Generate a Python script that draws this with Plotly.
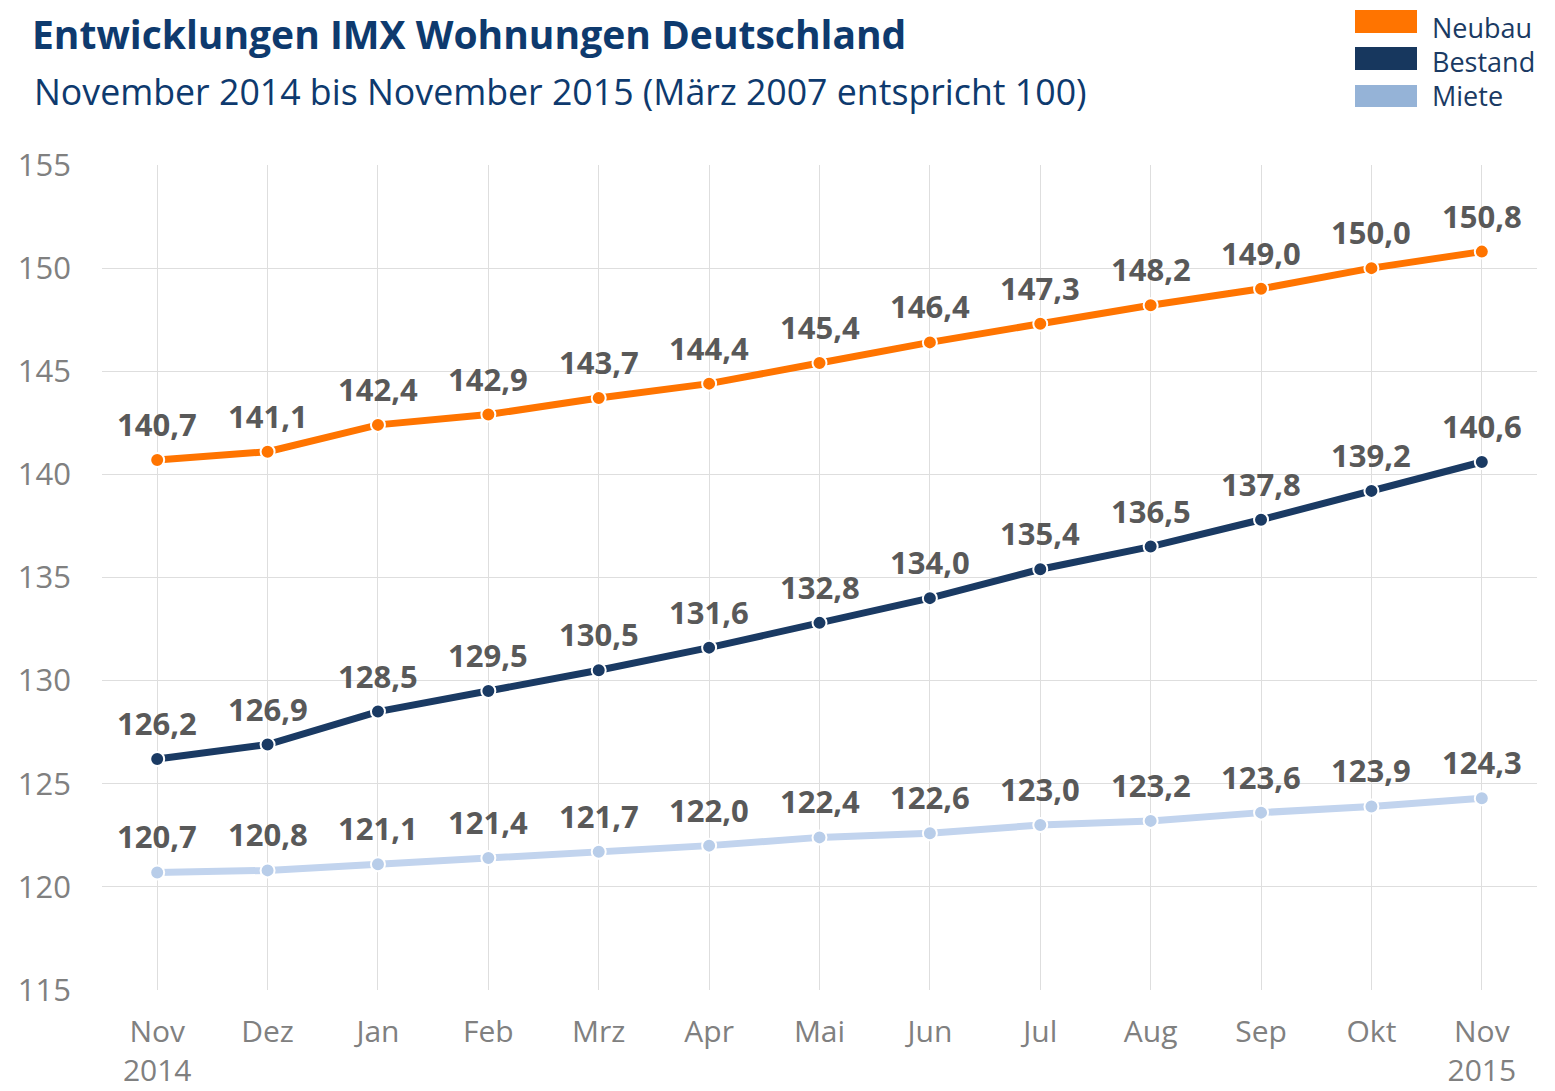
import plotly.graph_objects as go

months = ["Nov<br>2014", "Dez", "Jan", "Feb", "Mrz", "Apr", "Mai", "Jun", "Jul", "Aug", "Sep", "Okt", "Nov<br>2015"]
neubau = [140.7, 141.1, 142.4, 142.9, 143.7, 144.4, 145.4, 146.4, 147.3, 148.2, 149.0, 150.0, 150.8]
bestand = [126.2, 126.9, 128.5, 129.5, 130.5, 131.6, 132.8, 134.0, 135.4, 136.5, 137.8, 139.2, 140.6]
miete = [120.7, 120.8, 121.1, 121.4, 121.7, 122.0, 122.4, 122.6, 123.0, 123.2, 123.6, 123.9, 124.3]
y_ticks = [115, 120, 125, 130, 135, 140, 145, 150, 155]

x = list(range(len(months)))
series = [
    ("Neubau", neubau, "#ff7400", "#ff7400", "#ff7400"),
    ("Bestand", bestand, "#1a3a63", "#1a3a63", "#17375e"),
    ("Miete", miete, "#c2d4ee", "#b8cde9", "#95b3d7"),
]

# page offset (body margin of 8px)
OFF = 8
FW, FH = 1555 - OFF, 1091 - OFF
W0, W1 = 102 - OFF, 1537 - OFF
H0, H1 = 165 - OFF, 990 - OFF

def px(xp):
    return (xp - OFF - W0) / (W1 - W0)

def py(yp):
    return (H1 - (yp - OFF)) / (H1 - H0)

fig = go.Figure()
annotations = []
for name, vals, lc, mc, legc in series:
    fig.add_trace(go.Scatter(
        x=x, y=vals, mode="lines+markers", name=name,
        line=dict(color=lc, width=7),
        marker=dict(size=14, color=mc, line=dict(color="white", width=2)),
        showlegend=False,
    ))
    for xi, v in zip(x, vals):
        annotations.append(dict(
            x=xi, y=v, xref="x", yref="y", yshift=36, showarrow=False,
            text=f"{v:.1f}".replace(".", ","),
            font=dict(family="Open Sans", size=31, color="#595959", weight="bold"),
        ))

annotations.append(dict(
    x=px(30), y=py(33), xref="paper", yref="paper", xanchor="left", yanchor="middle",
    showarrow=False, text="<b>Entwicklungen IMX Wohnungen Deutschland</b>",
    font=dict(family="Open Sans", size=39, color="#0e3a6e"),
))
annotations.append(dict(
    x=px(32), y=py(91), xref="paper", yref="paper", xanchor="left", yanchor="middle",
    showarrow=False, text="November 2014 bis November 2015 (März 2007 entspricht 100)",
    font=dict(family="Open Sans", size=35.7, color="#0e3a6e"),
))

shapes = []
legend_rows = [(10, 33, 27), (47, 70, 61), (85, 107, 96)]
for (name, vals, lc, mc, legc), (t, b, c) in zip(series, legend_rows):
    shapes.append(dict(type="rect", xref="paper", yref="paper",
                       x0=px(1355), x1=px(1417), y0=py(b), y1=py(t),
                       fillcolor=legc, line=dict(width=0)))
    annotations.append(dict(
        x=px(1431), y=py(c), xref="paper", yref="paper", xanchor="left", yanchor="middle",
        showarrow=False, text=name, borderpad=0,
        font=dict(family="Open Sans", size=27, color="#1a3a63"),
    ))

fig.update_layout(
    width=FW, height=FH,
    margin=dict(l=W0, r=FW - W1, t=H0, b=FH - H1),
    paper_bgcolor="white", plot_bgcolor="white",
    annotations=annotations, shapes=shapes,
    xaxis=dict(
        range=[-0.5, len(months) - 0.5], tickvals=x, ticktext=months,
        showgrid=True, gridcolor="#dedede", gridwidth=1,
        zeroline=False, showline=False, ticks="", automargin=False,
        tickfont=dict(family="Open Sans", size=30, color="#808080"),
        ticklabelstandoff=21,
    ),
    yaxis=dict(
        range=[115, 155], tickvals=y_ticks,
        showgrid=True, gridcolor="#dedede", gridwidth=1,
        zeroline=False, showline=False, ticks="", automargin=False,
        tickfont=dict(family="Open Sans", size=31, color="#808080"),
        ticklabelstandoff=30,
    ),
)

fig.write_html("out.html")
